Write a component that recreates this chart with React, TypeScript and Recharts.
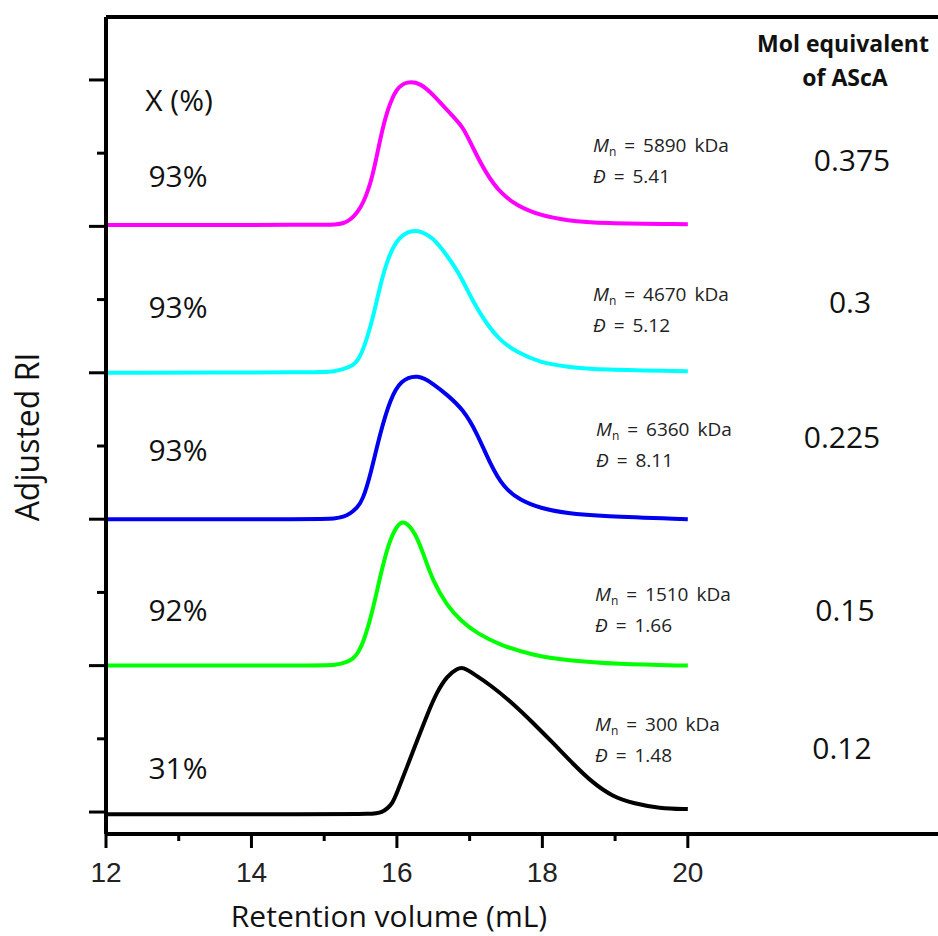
import React from "react";
import { LineChart, Line, XAxis, YAxis, ReferenceLine } from "recharts";

// Traces normalisées (hauteur ~1), décalées d'une unité chacune sur l'axe Y.
// [volume de rétention (mL), RI ajusté]
const black0120: [number, number][] = [
  [12, -0.015], [15, -0.015], [15.68, -0.015], [15.8, 0.0], [15.87, 0.025], [15.94, 0.06],
  [16.0, 0.13], [16.14, 0.31], [16.28, 0.49], [16.42, 0.67], [16.55, 0.82],
  [16.69, 0.93], [16.83, 0.98], [16.91, 0.99], [17.05, 0.945], [17.28, 0.87], [17.6, 0.74],
  [17.87, 0.61], [18.15, 0.47], [18.42, 0.33], [18.69, 0.2], [18.97, 0.105], [19.24, 0.06],
  [19.61, 0.025], [20, 0.02],
];
const green0150: [number, number][] = [
  [12, 0], [15, 0], [15.15, 0.005], [15.28, 0.018], [15.4, 0.045], [15.47, 0.09], [15.54, 0.16],
  [15.66, 0.36], [15.77, 0.61], [15.88, 0.83], [16.0, 0.96], [16.1, 0.995], [16.25, 0.91],
  [16.36, 0.77], [16.5, 0.57], [16.69, 0.41], [16.87, 0.31], [17.1, 0.22], [17.42, 0.14],
  [17.87, 0.07], [18.34, 0.035], [19.02, 0.01], [20, 0],
];
const blue0225: [number, number][] = [
  [12, 0], [15, 0], [15.13, 0.003], [15.27, 0.015], [15.36, 0.04], [15.45, 0.075], [15.53, 0.13],
  [15.64, 0.31], [15.77, 0.59], [15.91, 0.82], [16.05, 0.95], [16.29, 0.99], [16.5, 0.925],
  [16.69, 0.85], [16.91, 0.75], [17.1, 0.59], [17.28, 0.38], [17.46, 0.22], [17.69, 0.13],
  [17.97, 0.075], [18.34, 0.04], [18.8, 0.02], [20, 0],
];
const cyan0300: [number, number][] = [
  [12, 0], [15, 0.002], [15.13, 0.01], [15.27, 0.025], [15.4, 0.05], [15.47, 0.09], [15.54, 0.16],
  [15.66, 0.35], [15.77, 0.6], [15.88, 0.79], [16.02, 0.93], [16.25, 0.99], [16.5, 0.925],
  [16.69, 0.8], [16.87, 0.67], [17.05, 0.48], [17.24, 0.33], [17.42, 0.22], [17.65, 0.14],
  [17.97, 0.07], [18.34, 0.04], [18.8, 0.02], [20, 0.01],
];
const magenta0375: [number, number][] = [
  [12, 0.01], [15, 0.01], [15.15, 0.012], [15.27, 0.02], [15.36, 0.045], [15.45, 0.09],
  [15.54, 0.16], [15.66, 0.32], [15.77, 0.6], [15.87, 0.8], [16.0, 0.95], [16.14, 0.99],
  [16.32, 0.98], [16.5, 0.9], [16.77, 0.75], [16.91, 0.68], [17.05, 0.53], [17.24, 0.35],
  [17.42, 0.23], [17.65, 0.14], [17.97, 0.075], [18.34, 0.04], [18.8, 0.02], [20, 0.015],
];

const conversions = ["31%", "92%", "93%", "93%", "93%"];
const equivalents = ["0.12", "0.15", "0.225", "0.3", "0.375"];
const mnValues = ["300", "1510", "6360", "4670", "5890"];
const dispersities = ["1.48", "1.66", "8.11", "5.12", "5.41"];
const colors = ["#000000", "#00ff00", "#0000f0", "#00ffff", "#ff00ff"];
const traces = [black0120, green0150, blue0225, cyan0300, magenta0375];

const xTicks = [12, 13, 14, 15, 16, 17, 18, 19, 20];
const yTicks = [0, 0.5, 1, 1.5, 2, 2.5, 3, 3.5, 4, 4.5, 5];

const W = 938;
const H = 936;
const sans = "'Open Sans', 'Noto Sans', sans-serif";

// positions des annotations (px)
const convY = [768, 610, 450, 307, 176];
const mnY = [727, 597, 432, 297, 148];
const mnX = [595, 595, 596, 593, 593];
const eqY = [748, 610, 437, 302, 160];
const eqX = [842, 845, 842, 850, 852];

function XTick(p: any) {
  const v = p.payload.value;
  const major = v % 2 === 0;
  return (
    <g>
      <line x1={p.x} x2={p.x} y1={p.y} y2={p.y + (major ? 14 : 7)} stroke="#000" strokeWidth={3} />
      {major && (
        <text x={p.x} y={p.y + 48} textAnchor="middle" fontSize={28} fill="#222"
          fontFamily="'Liberation Sans', Arial, sans-serif">{v}</text>
      )}
    </g>
  );
}

function YTick(p: any) {
  const major = Number.isInteger(p.payload.value);
  return <line x1={p.x - (major ? 17 : 9)} x2={p.x} y1={p.y} y2={p.y} stroke="#000" strokeWidth={3} />;
}

export default function App() {
  const series = traces.map((pts, i) => ({
    key: `s${i}`,
    color: colors[i],
    data: pts.map(([x, y]) => ({ x, y: y + i })),
  }));

  const abs = (x: number, y: number, extra: React.CSSProperties = {}): React.CSSProperties => ({
    position: "absolute", left: x, top: y, transform: "translate(-50%, -50%)",
    whiteSpace: "nowrap", fontFamily: sans, color: "#111", lineHeight: 1, ...extra,
  });
  const note = (x: number, y: number): React.CSSProperties => ({
    position: "absolute", left: x, top: y, transform: "translateY(-50%)",
    whiteSpace: "nowrap", fontFamily: sans, fontSize: 19, color: "#222", lineHeight: 1, wordSpacing: 3,
  });

  return (
    <div style={{ position: "absolute", left: 0, top: 0, width: W, height: H, background: "#fff" }}>
      <LineChart width={W} height={H} margin={{ top: 17, right: 0, bottom: 42, left: 105 }}>
        <XAxis dataKey="x" type="number" domain={[12, 23.44]} ticks={xTicks} height={60}
          axisLine={{ stroke: "#000", strokeWidth: 4 }} tickLine={false} tickSize={0} tickMargin={0}
          tick={<XTick />} />
        <YAxis type="number" domain={[-0.15, 5.43]} ticks={yTicks} width={1}
          axisLine={{ stroke: "#000", strokeWidth: 4 }} tickLine={false} tickSize={0} tickMargin={0}
          tick={<YTick />} />
        <ReferenceLine y={5.43} stroke="#000" strokeWidth={4} />
        {series.map((s) => (
          <Line key={s.key} data={s.data} dataKey="y" type="basis" stroke={s.color}
            strokeWidth={4} dot={false} isAnimationActive={false} />
        ))}
      </LineChart>

      <div style={abs(389, 916, { fontSize: 30 })}>Retention volume (mL)</div>
      <div style={abs(27, 437, { fontSize: 32, transform: "translate(-50%, -50%) rotate(-90deg)" })}>Adjusted RI</div>

      <div style={abs(179, 100, { fontSize: 30 })}>X (%)</div>
      {conversions.map((c, i) => (
        <div key={`c${i}`} style={abs(178, convY[i], { fontSize: 30 })}>{c}</div>
      ))}

      {mnValues.map((m, i) => (
        <React.Fragment key={`m${i}`}>
          <div style={note(mnX[i], mnY[i] - 1)}>
            <i>M</i><span style={{ fontSize: 12, verticalAlign: "-4px" }}>n</span> = {m} kDa
          </div>
          <div style={note(mnX[i], mnY[i] + 28)}><i>Đ</i> = {dispersities[i]}</div>
        </React.Fragment>
      ))}

      <div style={abs(843, 43, { fontSize: 23, fontWeight: 700 })}>Mol equivalent</div>
      <div style={abs(845, 77, { fontSize: 23, fontWeight: 700 })}>of AScA</div>
      {equivalents.map((e, i) => (
        <div key={`e${i}`} style={abs(eqX[i], eqY[i], { fontSize: 30 })}>{e}</div>
      ))}
    </div>
  );
}
